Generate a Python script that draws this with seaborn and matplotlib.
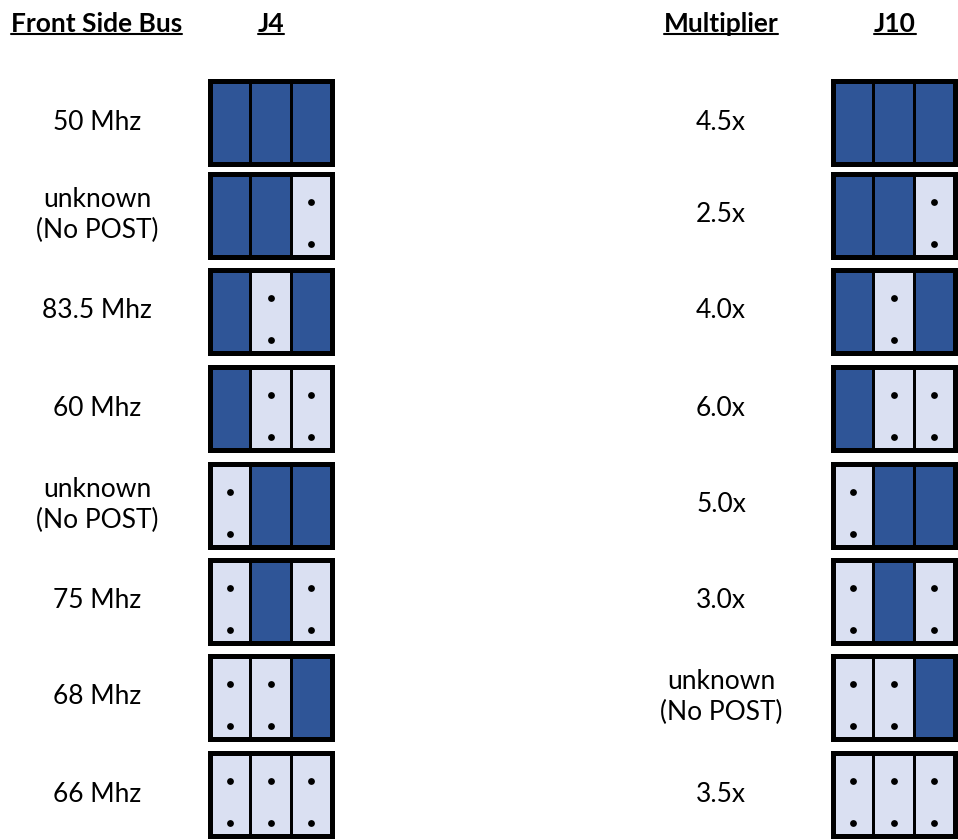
import numpy as np
import matplotlib
matplotlib.use('Agg')
import matplotlib.pyplot as plt
import seaborn as sns
from matplotlib.colors import ListedColormap
from matplotlib.lines import Line2D

# jumper settings, 1 = jumper closed (dark), 0 = open (two pins shown)
fsb_labels = ["50 Mhz", "unknown\n(No POST)", "83.5 Mhz", "60 Mhz",
              "unknown\n(No POST)", "75 Mhz", "68 Mhz", "66 Mhz"]
j4_pins = [[1, 1, 1], [1, 1, 0], [1, 0, 1], [1, 0, 0],
           [0, 1, 1], [0, 1, 0], [0, 0, 1], [0, 0, 0]]

mult_labels = ["4.5x", "2.5x", "4.0x", "6.0x",
               "5.0x", "3.0x", "unknown\n(No POST)", "3.5x"]
j10_pins = [[1, 1, 1], [1, 1, 0], [1, 0, 1], [1, 0, 0],
            [0, 1, 1], [0, 1, 0], [0, 0, 1], [0, 0, 0]]

headers = ["Front Side Bus", "J4", "Multiplier", "J10"]

W, H = 958, 840
DARK = '#2F5597'
LIGHT = '#DAE0F2'

sns.set_style('white')
plt.rcParams['font.family'] = ['Lato', 'DejaVu Sans']

fig = plt.figure(figsize=(W / 100, H / 100), dpi=100)

block_tops = [78, 171, 267, 364, 461, 557, 653, 750]
block_h = 88
block_w = 127
FS = 19


def px_axes(x0, top, w, h):
    return fig.add_axes([x0 / W, 1 - (top + h) / H, w / W, h / H])


def draw_block(x0, top, pins):
    ax = px_axes(x0 + 2.5, top + 2.5, block_w - 5, block_h - 5)
    sns.heatmap(np.array([pins]), ax=ax, cmap=ListedColormap([LIGHT, DARK]),
                vmin=0, vmax=1, cbar=False, linewidths=1.8, linecolor='black',
                xticklabels=False, yticklabels=False)
    for s in ax.spines.values():
        s.set_visible(True)
        s.set_linewidth(3.6)
        s.set_color('black')
    off = [i for i, p in enumerate(pins) if p == 0]
    for i in off:
        ax.scatter([i + 0.5, i + 0.5], [0.34, 0.85], s=24, color='black',
                   zorder=3, linewidths=0)


def draw_column(label_x, block_x, labels, pins):
    for top, lab, p in zip(block_tops, labels, pins):
        draw_block(block_x, top, p)
        fig.text(label_x / W, 1 - (top + block_h / 2) / H, lab,
                 ha='center', va='center', fontsize=FS, linespacing=1.3,
                 color='black')


draw_column(97, 207, fsb_labels, j4_pins)
draw_column(721, 830, mult_labels, j10_pins)

# underlined bold headers
head_x = [96.5, 271, 721, 895]
head_txt = []
for hx, h in zip(head_x, headers):
    head_txt.append(fig.text(hx / W, 1 - 32 / H, h, ha='center', va='baseline',
                             fontsize=FS, fontweight='bold', color='black'))

fig.canvas.draw()
r = fig.canvas.get_renderer()
for t in head_txt:
    bb = t.get_window_extent(r)
    y = (H - 34) / H
    fig.add_artist(Line2D([bb.x0 / W, bb.x1 / W], [y, y], color='black',
                          lw=1.5, transform=fig.transFigure))

fig.savefig('out.png', dpi=100)
